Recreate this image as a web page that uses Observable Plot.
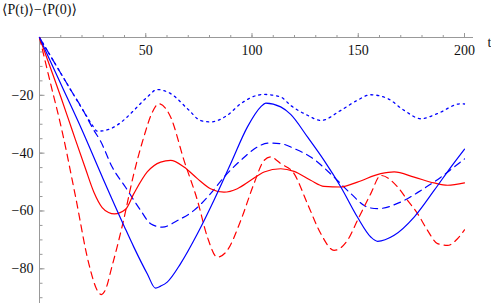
<!DOCTYPE html>
<html>
<head>
<meta charset="utf-8">
<script src="https://cdn.jsdelivr.net/npm/d3@7"></script>
<script src="https://cdn.jsdelivr.net/npm/@observablehq/plot@0.6"></script>
<style>
  html, body { margin: 0; padding: 0; background: #fff; }
  #wrap { position: relative; width: 491px; height: 303px; overflow: hidden; }
  #title { height: 20px; line-height: 20px; padding-left: 2px; font-family: "Liberation Serif", "Times New Roman", "DejaVu Serif", serif; font-size: 14px; color: #111; white-space: nowrap; }
  svg { display: block; }
</style>
</head>
<body>
<div id="wrap">
  <div id="title"></div>
  <div id="chart"></div>
</div>
<script>
// ---- data ----
const titleText = "⟨P(t)⟩−⟨P(0)⟩";
const xAxisLabel = "t";
const xMajorTicks = [50, 100, 150, 200];
const xMinorTicks = [10, 20, 30, 40, 50, 60, 70, 80, 90, 100, 110, 120, 130, 140, 150, 160, 170, 180, 190, 200];
const yMajorTicks = [-80, -60, -40, -20];
const yMinorTicks = [-90, -85, -80, -75, -70, -65, -60, -55, -50, -45, -40, -35, -30, -25, -20, -15, -10, -5];

const blueSolidT = [0, 10, 20, 30, 40, 44.4, 50.7, 54.6, 57, 60.1, 66.4, 74.3, 82.1, 90, 97.8, 104.1, 106.5, 113.5, 118.2, 126.1, 133.9, 141.8, 149.6, 155.9, 159.1, 166.9, 176.3, 185.7, 193.6, 200];
const blueSolidV = [0, -16, -32, -49, -65.5, -72.5, -81.7, -86.7, -86, -84.6, -78.2, -67.9, -56.3, -43.6, -31, -24, -22.7, -24, -26.6, -34.4, -42.5, -51.7, -62.1, -69, -70.5, -68.4, -62.1, -52.9, -44.8, -38.6];

const blueDashedT = [0, 6.4, 15, 20, 25.6, 28.7, 34.2, 40.5, 47.6, 52.3, 57.8, 64.9, 72.7, 80.5, 86.8, 94.7, 102.5, 107.3, 113.5, 119.8, 127.6, 138.6, 146.5, 154.4, 159.1, 170, 179.5, 188.9, 195.1, 200];
const blueDashedV = [0, -7.9, -18.5, -24.5, -32.1, -35.8, -44.8, -51.8, -59.8, -64.4, -65.6, -63.3, -59.8, -54, -48.3, -42.5, -37.9, -36.5, -36.7, -38.4, -41.3, -48.3, -54, -58.7, -59.2, -56.9, -52.9, -48.3, -44.8, -42];

const blueDottedT = [0, 6.4, 15, 22, 25, 27.2, 29.5, 35, 40.5, 44.4, 50.7, 55.4, 61.7, 69.6, 75.8, 80.5, 88.4, 94.7, 102.5, 105.7, 113.5, 118.2, 126.1, 132.4, 141.8, 149.6, 155.9, 163.8, 171.6, 179.5, 187.3, 198.3, 200];
const blueDottedV = [0, -7.9, -18.5, -27, -30.5, -32.4, -32.3, -31, -28, -25.2, -20.6, -18, -19.4, -24.6, -28.7, -29.2, -26.9, -22.9, -20, -19.7, -20.6, -23.5, -26.9, -28.7, -25.2, -21.7, -19.8, -21.1, -25.2, -28.1, -26.3, -22.9, -23];

const redSolidT = [0, 10, 15.4, 21.7, 25.6, 29.5, 32.5, 35.3, 40.5, 44.4, 50.7, 57, 61.7, 68, 74.3, 80.5, 86.8, 93.1, 99.4, 105.7, 113.5, 119.8, 127.6, 133.9, 141.8, 149.6, 160.6, 166.9, 176.3, 185.7, 192, 200];
const redSolidV = [0, -20.5, -32.1, -45.5, -53.5, -58.8, -60.5, -61, -59.4, -54, -46.5, -43.1, -42.5, -44.8, -48.8, -52.3, -53.5, -52.3, -49.4, -46.5, -45.4, -46.3, -49.4, -51.5, -51.7, -50, -47.1, -46.5, -48.3, -50.3, -51.1, -50.3];

const redDashedT = [0, 5.2, 10.7, 17, 23.2, 27.2, 29.1, 31, 34, 39, 44.4, 49.1, 53, 56.2, 61.7, 68, 74.3, 79, 83.7, 88.4, 94.7, 100.9, 105.7, 108.8, 113.5, 119.8, 126.1, 132.4, 138.6, 144.9, 149.6, 155.9, 160.6, 168.5, 173.2, 177.9, 182.6, 187.3, 192, 196.7, 200];
const redDashedV = [0, -15.9, -32.6, -55.2, -78.2, -87.5, -88.9, -87.3, -79.5, -65, -47.1, -34.4, -26, -22.9, -27.5, -42.5, -56.3, -69, -76, -73.6, -63.3, -50.6, -42.5, -41.3, -43.6, -47.1, -57.5, -67.9, -73.6, -70.2, -63.3, -54, -47.7, -51.7, -56.3, -60.9, -66.7, -71.3, -71.9, -69.6, -66.5];

// ---- build tables ----
const rows = (T, V) => T.map((t, i) => ({t, v: V[i]}));
const blue = "#0000ff", red = "#ff0000", axisGray = "#999999";
const font = '"Liberation Serif", "Times New Roman", "DejaVu Serif", serif';
const W = 491, H = 283, mL = 39, mR = 27, mT = 17, mB = 0;
const frameW = W - mL - mR;

document.getElementById("title").textContent = titleText;

const chart = Plot.plot({
  width: W, height: H,
  marginLeft: mL, marginRight: mR, marginTop: mT, marginBottom: mB,
  style: {fontFamily: font, fontSize: "14px", background: "white", overflow: "visible"},
  x: {domain: [0, 200], axis: null},
  y: {domain: [-92, 0], axis: null},
  marks: [
    // axis lines
    Plot.ruleY([0], {stroke: axisGray, insetRight: -9}),
    Plot.ruleX([0], {stroke: axisGray}),
    // x ticks (pointing up)
    Plot.axisX(xMinorTicks, {anchor: "top", tickSize: 3, text: null, label: null, stroke: axisGray}),
    Plot.axisX(xMajorTicks, {anchor: "top", tickSize: 5, text: null, label: null, stroke: axisGray}),
    Plot.axisX(xMajorTicks, {anchor: "top", tickSize: 0, tickPadding: 0, dy: 7.5, lineAnchor: "top", fill: "#111", fontSize: 14, fontFamily: font, label: null}),
    // y ticks (pointing right)
    Plot.tickY(yMinorTicks, {y: d => d, stroke: axisGray, insetRight: frameW - 3.5}),
    Plot.tickY(yMajorTicks, {y: d => d, stroke: axisGray, insetRight: frameW - 5.5}),
    Plot.axisY(yMajorTicks, {anchor: "left", tickSize: 0, tickPadding: 6, fill: "#111", fontSize: 14, fontFamily: font, label: null}),
    // axis label
    Plot.text([xAxisLabel], {frameAnchor: "top-right", dx: 23, textAnchor: "start", fontSize: 14, fontFamily: font, fill: "#111"}),
    // curves
    Plot.line(rows(blueDottedT, blueDottedV), {x: "t", y: "v", stroke: blue, strokeWidth: 1.3, strokeDasharray: "2,4", curve: "monotone-x"}),
    Plot.line(rows(blueDashedT, blueDashedV), {x: "t", y: "v", stroke: blue, strokeWidth: 1.2, strokeDasharray: "7,5", curve: "monotone-x"}),
    Plot.line(rows(redDashedT, redDashedV), {x: "t", y: "v", stroke: red, strokeWidth: 1.2, strokeDasharray: "7,5", curve: "monotone-x"}),
    Plot.line(rows(redSolidT, redSolidV), {x: "t", y: "v", stroke: red, strokeWidth: 1.2, curve: "monotone-x"}),
    Plot.line(rows(blueSolidT, blueSolidV), {x: "t", y: "v", stroke: blue, strokeWidth: 1.2, curve: "monotone-x"})
  ]
});
document.getElementById("chart").appendChild(chart);
</script>
</body>
</html>
